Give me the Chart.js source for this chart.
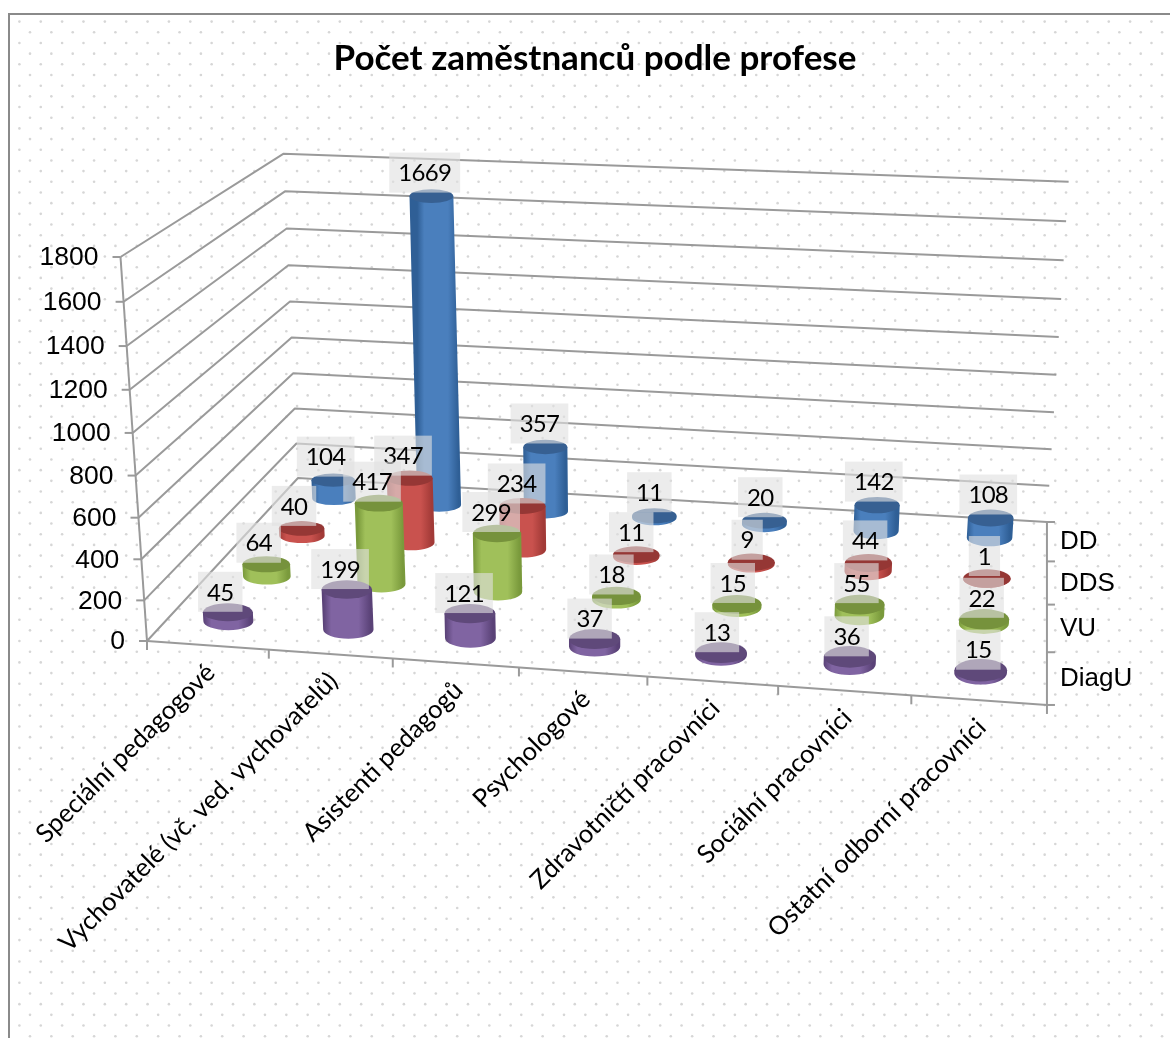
<!DOCTYPE html>
<html><head><meta charset="utf-8">
<style>html,body{margin:0;padding:0;background:#fff}canvas{display:block}</style>
<script src="https://cdn.jsdelivr.net/npm/chart.js@4/dist/chart.umd.js"></script>
</head><body><canvas id="c" width="1170" height="1038"></canvas>
<script>
const categories = ["Speciální pedagogové","Vychovatelé (vč. ved. vychovatelů)","Asistenti pedagogů","Psychologové","Zdravotničtí pracovníci","Sociální pracovníci","Ostatní odborní pracovníci"];
const seriesNames = ["DiagU","VU","DDS","DD"];
const diagU = [45,199,121,37,13,36,15];
const vu    = [64,417,299,18,15,55,22];
const dds   = [40,347,234,11,9,44,1];
const dd    = [104,1669,357,11,20,142,108];
const seriesValues = [diagU,vu,dds,dd];
const chartTitle = "Počet zaměstnanců podle profese";
const yMax = 1800, yStep = 200;

const sideColors = [["#5a4277","#8064a2"],["#7a9a3c","#a0c05a"],["#a23a37","#c9524e"],["#2f5f96","#4a7fbd"]];
const topColors = ["#5f497a","#76923c","#953735","#376092"];
const lineColor = "#9a9a9a";

/* perspective of the 3D box: u, v, z are decimals in 0..1 taken from the chart's scales */
function project(u,v,z){
  const w = 1-0.0608*u+0.2016*v-0.054*z;
  return {x:(836.3*u+211.08*v-33*z+147)/w, y:(21.1*u-66.6*v-397.9*z+641)/w, w};
}
const dec = (s,val)=>s.getDecimalForPixel(s.getPixelForValue(val));
const zDec = (s,val)=>(val-s.min)/(s.max-s.min);

const box3d = {
  id:"box3d",
  beforeDraw(chart){
    const c = chart.ctx;
    c.save();
    c.fillStyle="#fff"; c.fillRect(0,0,1170,1038);
    c.fillStyle="#d6d6d6";
    let r=0;
    for(let y=21.6;y<1040;y+=10.68,r++){
      for(let x=(r%2?30:19.4);x<1172;x+=21.36){
        c.beginPath(); c.arc(x,y,1.3,0,Math.PI*2); c.fill();
      }
    }
    c.strokeStyle="#8a8a8a"; c.lineWidth=2;
    c.beginPath(); c.moveTo(9,1038); c.lineTo(9,14); c.lineTo(1170,14); c.stroke();
    c.restore();
  },
  beforeDatasetsDraw(chart){
    const c = chart.ctx, ys = chart.scales.y, xs = chart.scales.x, ds = chart.scales.depth;
    c.save();
    c.strokeStyle=lineColor; c.lineWidth=2; c.lineJoin="round";
    const seg=(a,b)=>{c.beginPath();c.moveTo(a.x,a.y);c.lineTo(b.x,b.y);c.stroke();};
    ys.ticks.forEach(t=>{
      const z=zDec(ys,t.value);
      const a=project(0,0,z),b=project(0,1,z),d=project(1,1,z);
      c.beginPath();c.moveTo(a.x,a.y);c.lineTo(b.x,b.y);c.lineTo(d.x,d.y);c.stroke();
      seg({x:a.x-8,y:a.y},a);
      c.fillStyle="#000";c.font="26.5px 'Liberation Sans'";c.textAlign="right";c.textBaseline="middle";
      c.fillText(String(t.value),a.x-22,a.y+1);
    });
    seg(project(0,0,0),project(0,0,1));
    seg(project(0,0,0),project(1,0,0));
    seg(project(1,0,0),project(1,1,0));
    for(let i=0;i<=categories.length;i++){
      const p=project(i/categories.length,0,0);
      seg(p,{x:p.x,y:p.y+9});
    }
    for(let i=0;i<=seriesNames.length;i++){
      const p=project(1,i/seriesNames.length,0);
      seg(p,{x:p.x+8,y:p.y});
    }
    c.fillStyle="#000";c.font="26px 'Liberation Sans'";c.textAlign="left";c.textBaseline="middle";
    seriesNames.forEach((n,i)=>{
      const p=project(1,dec(ds,i),0);
      c.fillText(n,p.x+13,p.y+1);
    });
    categories.forEach((n,i)=>{
      const p=project(dec(xs,i),0,0);
      c.save();c.translate(p.x+3,p.y+23);c.rotate(-Math.PI/4);
      c.font="25.5px Lato";c.textAlign="right";c.textBaseline="middle";
      c.fillText(n,0,0);c.restore();
    });
    c.restore();
  },
  afterDatasetsDraw(chart){
    const c = chart.ctx, ys = chart.scales.y, xs = chart.scales.x, ds = chart.scales.depth;
    const labels=[];
    c.save();
    for(let s=seriesNames.length-1;s>=0;s--){
      const v=dec(ds,s);
      chart.data.datasets[s].data.forEach((val,i)=>{
        const u=dec(xs,i);
        const base=project(u,v,0), top=project(u,v,zDec(ys,val));
        const a=25.5/base.w, b=a*(0.36+0.08*u-0.07*v);
        const g=c.createLinearGradient(base.x-a,0,base.x+a,0);
        const [dk,md]=sideColors[s];
        g.addColorStop(0,dk);g.addColorStop(0.16,md);g.addColorStop(0.7,md);g.addColorStop(0.94,dk);g.addColorStop(1,dk);
        c.fillStyle=g;
        c.beginPath();
        c.ellipse(base.x,base.y,a,b,0,Math.PI,0,true);
        c.lineTo(top.x+a,top.y);
        c.lineTo(top.x-a,top.y);
        c.closePath();c.fill();
        c.fillStyle=topColors[s];
        c.beginPath();c.ellipse(top.x,top.y,a,b,0,0,Math.PI*2);c.fill();
        labels.push({val,x:top.x-(8-6*u),y:top.y-4*v});
      });
    }
    c.font="24px Lato";c.letterSpacing="-0.7px";c.textAlign="center";c.textBaseline="middle";
    labels.forEach(l=>{
      const t=String(l.val),tw=c.measureText(t).width+18;
      c.fillStyle="rgba(224,224,224,0.62)";
      c.fillRect(l.x-tw/2,l.y-40,tw,40);
      c.fillStyle="#000";
      c.fillText(t,l.x,l.y-19);
    });
    c.restore();
  }
};

new Chart(document.getElementById("c"),{
  type:"bar",
  data:{labels:categories,datasets:seriesNames.map((n,i)=>({label:n,data:seriesValues[i],backgroundColor:"transparent",borderWidth:0,xAxisID:"x",yAxisID:"y"}))},
  options:{
    responsive:false,animation:false,
    layout:{padding:{left:20}},
    plugins:{
      legend:{display:false},tooltip:{enabled:false},
      title:{display:true,text:chartTitle,color:"#000",font:{family:"Lato",size:35,weight:"bold"},padding:{top:38,bottom:10}}
    },
    scales:{
      x:{type:"category",display:false,offset:true},
      depth:{type:"category",axis:"x",labels:seriesNames,display:false,offset:true},
      y:{type:"linear",display:false,min:0,max:yMax,ticks:{stepSize:yStep}}
    }
  },
  plugins:[box3d]
});
</script></body></html>
